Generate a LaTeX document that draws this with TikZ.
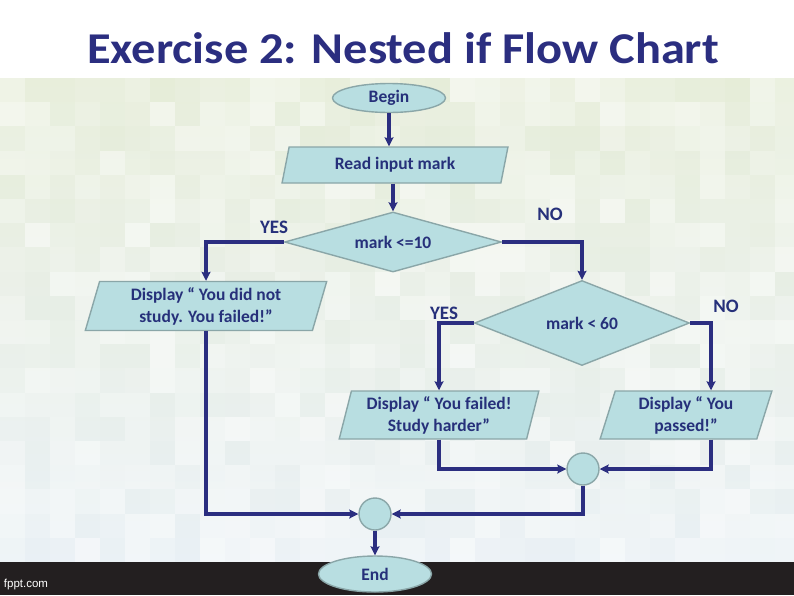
\documentclass[tikz,border=0pt]{standalone}
\usepackage{fontspec}
\setmainfont{Carlito}
\newfontfamily\titlefont{Carlito}[FakeStretch=1.1]
\newfontfamily\sitefont{Liberation Sans}
\usetikzlibrary{arrows.meta,positioning,shapes.geometric}
\definecolor{fcnavy}{HTML}{2B2E80}
\definecolor{fctext}{HTML}{26307A}
\definecolor{fcfill}{HTML}{B8DEE1}
\definecolor{fcedge}{HTML}{8AA6A8}
\definecolor{fcbar}{HTML}{231F20}
\definecolor{fcgreen}{HTML}{E6EDD8}
\definecolor{fcblue}{HTML}{E9F0F5}

\begin{document}
\begin{tikzpicture}[
    x=1pt, y=-1pt,
    box/.style={draw=fcedge, fill=fcfill, line width=1.4pt, align=center,
                inner sep=0pt, text=fctext,
                font=\fontsize{17.5}{22}\selectfont\bfseries},
    terminal/.style={box, ellipse, minimum width=113pt, minimum height=29pt},
    io/.style={box, trapezium, trapezium left angle=75,
               trapezium right angle=105, trapezium stretches=true},
    decision/.style={box, diamond},
    joint/.style={box, circle, minimum size=32pt},
    answer/.style={font=\fontsize{19}{21}\selectfont\bfseries, text=fctext},
    flow/.style={fcnavy, line width=3.2pt,
                 -{Stealth[length=9pt, width=9pt, inset=1.5pt]}}
  ]

  \useasboundingbox (0,0) rectangle (794,595);

  % ---- Background ----
  \fill[white] (0,0) rectangle (794,595);
  \shade[top color=fcgreen, bottom color=fcblue] (0,78) rectangle (794,562);
  \pgfmathsetseed{11}
  \foreach \col in {0,...,31}{
    \foreach \row in {0,...,19}{
      \pgfmathsetmacro\tint{rnd*55}
      \fill[white, opacity=\tint/100] (\col*25,78+\row*24.2) rectangle ++(25,24.2);
    }
  }
  \fill[fcbar] (0,562) rectangle (794,595);
  \node[font=\sitefont\fontsize{11.5}{13}\selectfont, text=white] (site) at (26,585) {fppt.com};

  % ---- Title ----
  \node[font=\titlefont\fontsize{44}{48}\selectfont\bfseries, text=fcnavy]
    (title) at (403,48) {Exercise 2: Nested if Flow Chart};

  % ============ Flow chart ============

  \node[terminal] (begin) at (389,98) {Begin};

  \node[io, minimum width=226pt, minimum height=36pt]
    (read) at (395,165) {Read input mark};

  % first test
  \node[decision, aspect=3.6, minimum width=217pt, minimum height=60pt]
    (test1) at (393,242) {mark <=10};
  \node[answer] (yes1) at (274,227) {YES};
  \node[answer] (no1) at (550,214) {NO};

  \node[io, minimum width=242pt, minimum height=49pt]
    (notstudied) at (206,306) {Display “ You did not\\study. You failed!”};

  % second test
  \node[decision, aspect=2.5, minimum width=215pt, minimum height=85pt]
    (test2) at (582,323) {mark < 60};
  \node[answer] (yes2) at (444,313) {YES};
  \node[answer] (no2) at (726,306) {NO};

  \node[io, minimum width=200pt, minimum height=48pt]
    (failed) at (439,415) {Display “ You failed!\\Study harder”};
  \node[io, minimum width=172pt, minimum height=48pt]
    (passed) at (686,415) {Display “ You\\passed!”};

  % joins and end
  \node[joint] (join1) at (583,469) {};
  \node[joint] (join2) at (375,514) {};
  \node[terminal, minimum height=36pt] (stop) at (375,574) {End};

  % ---- Connectors ----
  \draw[flow] (begin.south) -- (begin.south |- read.north);
  \draw[flow] (test1.north |- read.south) -- (test1.north);
  \draw[flow] (test1.west) -| (notstudied.north);
  \draw[flow] (test1.east) -| (test2.north);
  \draw[flow] (notstudied.south) |- (join2.west);
  \draw[flow] (test2.west) -| (failed.north);
  \draw[flow] (test2.east) -| ([xshift=25pt]passed.north);
  \draw[flow] (failed.south) |- (join1.west);
  \draw[flow] ([xshift=25pt]passed.south) |- (join1.east);
  \draw[flow] (join1.south) |- (join2.east);
  \draw[flow] (join2) -- (stop);

\end{tikzpicture}
\end{document}
